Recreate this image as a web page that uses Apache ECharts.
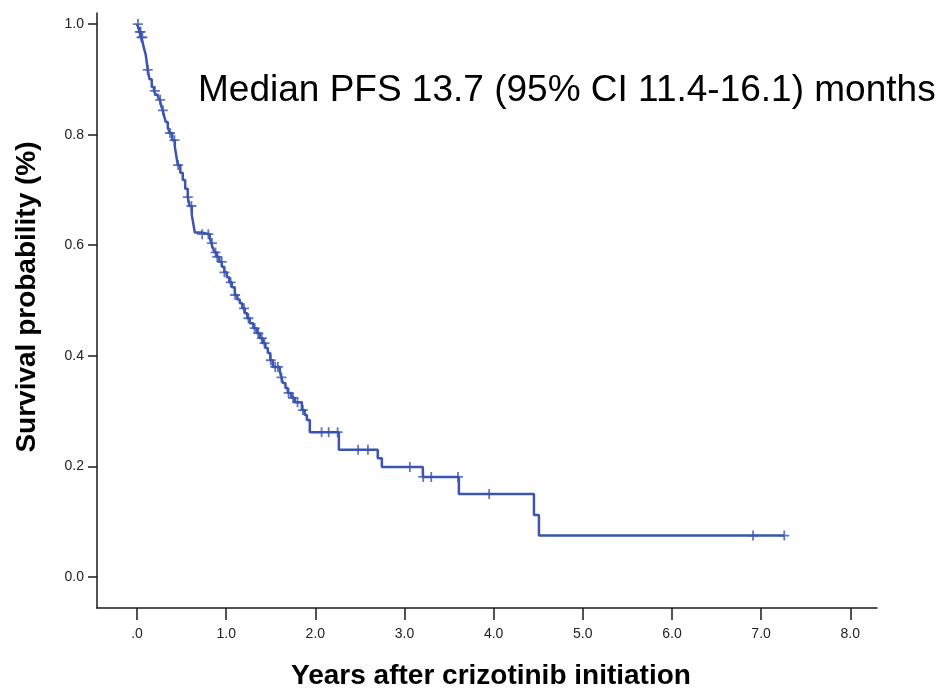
<!DOCTYPE html>
<html>
<head>
<meta charset="utf-8">
<script src="https://cdn.jsdelivr.net/npm/echarts@6/dist/echarts.min.js"></script>
<style>html,body{margin:0;padding:0;background:#fff}#c{width:946px;height:688px}</style>
</head>
<body>
<div id="c"></div>
<script>
// Kaplan-Meier step points: time (years) at which survival drops, and survival after drop
const eventTimes = [0, 0.015, 0.030, 0.045, 0.064, 0.080, 0.098, 0.110, 0.120, 0.140, 0.165, 0.190, 0.210, 0.235, 0.255, 0.270, 0.288,
  0.305, 0.322, 0.345, 0.367, 0.395, 0.424, 0.440, 0.457, 0.485, 0.513, 0.540, 0.569, 0.590, 0.614, 0.630, 0.648, 0.720,
  0.816, 0.833, 0.850, 0.872, 0.895, 0.923, 0.951, 0.979, 1.007, 1.035, 1.063, 1.097, 1.125, 1.153, 1.181, 1.209, 1.237, 1.265,
  1.305, 1.344, 1.378, 1.411, 1.440, 1.467, 1.495, 1.523, 1.602, 1.620, 1.635, 1.665, 1.691, 1.730, 1.770, 1.849, 1.880, 1.905, 1.938,
  2.264, 2.700, 2.746, 3.206, 3.610, 4.452, 4.508, 7.26];
const survival = [1.000, 0.993, 0.986, 0.976, 0.966, 0.955, 0.944, 0.930, 0.917, 0.900, 0.886, 0.879, 0.872, 0.868, 0.863, 0.853, 0.844,
  0.833, 0.823, 0.813, 0.803, 0.790, 0.778, 0.762, 0.745, 0.731, 0.718, 0.702, 0.687, 0.671, 0.655, 0.640, 0.623, 0.620,
  0.613, 0.604, 0.595, 0.587, 0.579, 0.570, 0.561, 0.551, 0.542, 0.533, 0.524, 0.510, 0.502, 0.495, 0.486, 0.477, 0.468, 0.459,
  0.450, 0.441, 0.432, 0.423, 0.414, 0.405, 0.392, 0.380, 0.371, 0.361, 0.351, 0.342, 0.333, 0.324, 0.316, 0.302, 0.293, 0.284, 0.262,
  0.230, 0.215, 0.199, 0.181, 0.150, 0.112, 0.075, 0.075];
// censored observation times (years)
const censorTimes = [0.01, 0.03, 0.04, 0.05, 0.06, 0.12, 0.20, 0.26, 0.29, 0.37, 0.42, 0.46, 0.57, 0.61, 0.73, 0.80, 0.84, 0.88, 0.90, 0.95, 0.98,
  1.05, 1.10, 1.20, 1.25, 1.32, 1.36, 1.40, 1.43, 1.50, 1.55, 1.58, 1.62, 1.70, 1.75, 1.80, 1.86, 2.07, 2.15, 2.25, 2.48, 2.59, 3.06, 3.21, 3.30,
  3.60, 3.95, 6.91, 7.26];
const xTicks = [0, 1, 2, 3, 4, 5, 6, 7, 8];
const yTicks = [0, 0.2, 0.4, 0.6, 0.8, 1.0];
const xTitle = 'Years after crizotinib initiation';
const yTitle = 'Survival probability (%)';
const annotation = 'Median PFS 13.7 (95% CI 11.4-16.1) months';

function survAt(t) {
  let s = 1;
  for (let i = 0; i < eventTimes.length; i++) { if (eventTimes[i] <= t) s = survival[i]; }
  return s;
}
const lineData = eventTimes.map((t, i) => [t, survival[i]]);
const censorData = censorTimes.map(t => [t, survAt(t)]);
const blue = '#3b55b0';
const axisCol = '#1a1a1a';

const chart = echarts.init(document.getElementById('c'), null, {renderer: 'canvas'});
chart.setOption({
  animation: false,
  backgroundColor: '#fff',
  grid: {left: 97, right: 69, top: 13, bottom: 80},
  xAxis: {
    type: 'value', min: -0.449, max: 8.30,
    splitLine: {show: false},
    axisLine: {show: true, onZero: false, lineStyle: {color: axisCol, width: 1.5}},
    axisTick: {show: true, customValues: xTicks, length: 12, lineStyle: {color: axisCol, width: 1.5}},
    axisLabel: {customValues: xTicks, margin: 19, color: '#222', fontSize: 14, fontFamily: 'Liberation Sans, Arial, sans-serif',
      formatter: v => v === 0 ? '.0' : v.toFixed(1)}
  },
  yAxis: {
    type: 'value', min: -0.056, max: 1.02,
    splitLine: {show: false},
    axisLine: {show: true, onZero: false, lineStyle: {color: axisCol, width: 1.5}},
    axisTick: {show: true, customValues: yTicks, length: 9, lineStyle: {color: axisCol, width: 1.5}},
    axisLabel: {customValues: yTicks, margin: 13, color: '#222', fontSize: 14, fontFamily: 'Liberation Sans, Arial, sans-serif',
      formatter: v => v.toFixed(1)}
  },
  series: [
    {type: 'line', step: 'end', data: lineData, symbol: 'none', lineStyle: {color: blue, width: 2.5}, z: 3},
    {type: 'scatter', data: censorData, symbol: 'path://M0,-1L0,1M-0.6,0L0.6,0', symbolSize: [10, 10], symbolKeepAspect: false,
      itemStyle: {color: 'none', borderColor: blue, borderWidth: 1.8}, z: 4}
  ],
  graphic: [
    {type: 'text', left: 198, top: 72, style: {text: annotation, font: '37px "Liberation Sans", Arial, sans-serif', fill: '#000'}},
    {type: 'text', x: 491, y: 676, style: {text: xTitle, font: 'bold 28px "Liberation Sans", Arial, sans-serif', fill: '#000', align: 'center', verticalAlign: 'middle'}},
    {type: 'text', x: 27, y: 297, rotation: Math.PI / 2, style: {text: yTitle, font: 'bold 28px "Liberation Sans", Arial, sans-serif', fill: '#000', align: 'center', verticalAlign: 'middle'}}
  ]
});
</script>
</body>
</html>
